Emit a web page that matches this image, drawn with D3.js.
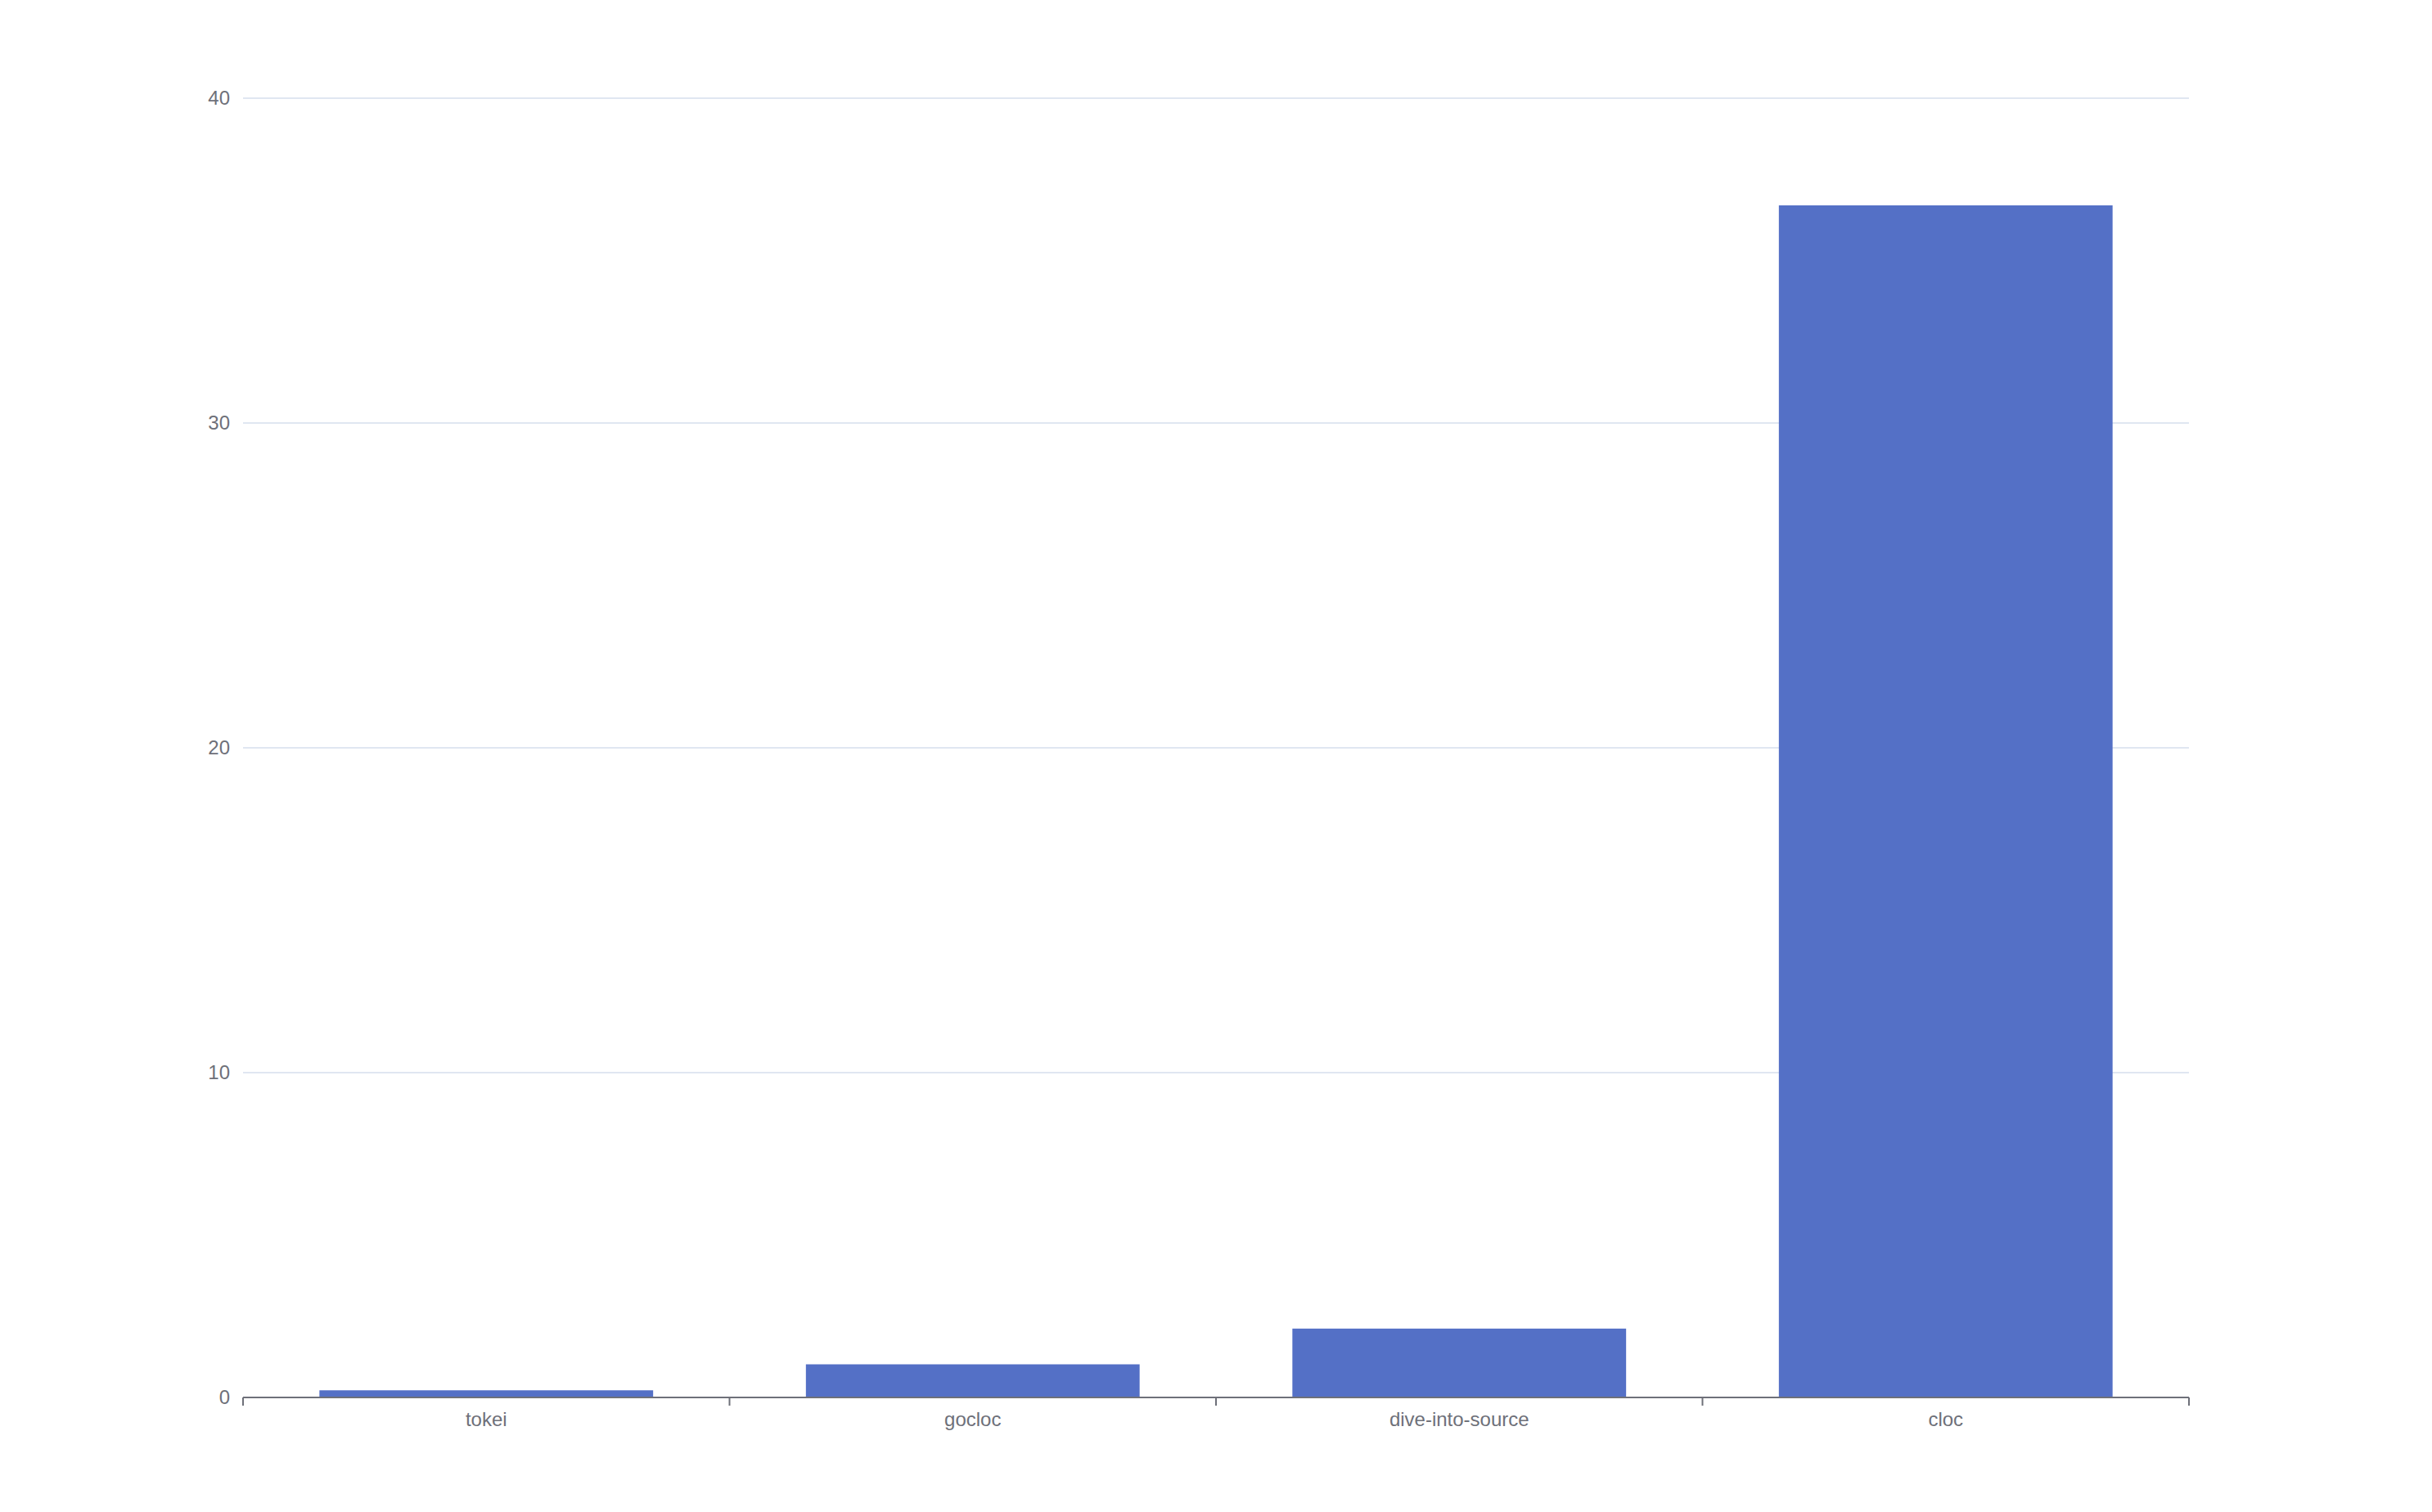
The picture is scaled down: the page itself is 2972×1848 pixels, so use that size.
<!DOCTYPE html>
<html>
<head>
<meta charset="utf-8">
<script src="https://cdn.jsdelivr.net/npm/d3@7/dist/d3.min.js"></script>
<style>
  html, body { margin: 0; padding: 0; background: #fff; }
  text { font-family: "Liberation Sans", Arial, sans-serif; }
</style>
</head>
<body>
<div class="canvas"></div>
<script>
const tools = ['tokei', 'gocloc', 'dive-into-source', 'cloc'];
const seconds = [0.22, 1.02, 2.12, 36.7];
const yTicks = [0, 10, 20, 30, 40];

const dims = {width: 2972, height: 1848};
const margin = {top: 120, right: 297, bottom: 140, left: 297};
const inner = {
    width: dims.width - margin.left - margin.right,
    height: dims.height - margin.top - margin.bottom
};

const svg = d3.select('.canvas')
    .append('svg')
    .attr('width', dims.width)
    .attr('height', dims.height);

const graph = svg.append('g')
    .attr('transform', `translate(${margin.left}, ${margin.top})`);

const x = d3.scaleBand()
    .domain(tools)
    .range([0, inner.width])
    .paddingInner(0.314)
    .paddingOuter(0.157);

const y = d3.scaleLinear()
    .domain([0, 40])
    .range([inner.height, 0]);

// horizontal grid lines
graph.append('g')
    .selectAll('line')
    .data(yTicks.filter(d => d !== 0))
    .join('line')
    .attr('x1', 0)
    .attr('x2', inner.width)
    .attr('y1', d => y(d))
    .attr('y2', d => y(d))
    .attr('stroke', '#E0E6F1')
    .attr('stroke-width', 2);

// y axis labels only
const yAxis = d3.axisLeft(y).tickValues(yTicks).tickSize(0).tickPadding(16);
graph.append('g')
    .call(yAxis)
    .call(g => g.select('.domain').remove())
    .selectAll('text')
    .attr('font-size', 24)
    .attr('fill', '#6E7079');

// bars
graph.selectAll('rect.bar')
    .data(tools)
    .join('rect')
    .attr('class', 'bar')
    .attr('x', d => x(d))
    .attr('width', x.bandwidth())
    .attr('y', (d, i) => y(seconds[i]))
    .attr('height', (d, i) => inner.height - y(seconds[i]))
    .attr('fill', '#5470C6');

// x axis, ticks on band boundaries
const xAxisG = graph.append('g')
    .attr('transform', `translate(0, ${inner.height})`);

xAxisG.append('line')
    .attr('x1', 0)
    .attr('x2', inner.width)
    .attr('stroke', '#6E7079')
    .attr('stroke-width', 2);

const step = x.step();
xAxisG.selectAll('line.tick')
    .data(d3.range(tools.length + 1))
    .join('line')
    .attr('class', 'tick')
    .attr('x1', i => i * step)
    .attr('x2', i => i * step)
    .attr('y1', 0)
    .attr('y2', 10)
    .attr('stroke', '#6E7079')
    .attr('stroke-width', 2);

xAxisG.selectAll('text')
    .data(tools)
    .join('text')
    .attr('x', d => x(d) + x.bandwidth() / 2)
    .attr('y', 18)
    .attr('dy', '0.71em')
    .attr('text-anchor', 'middle')
    .attr('font-size', 24)
    .attr('fill', '#6E7079')
    .text(d => d);
</script>
</body>
</html>
